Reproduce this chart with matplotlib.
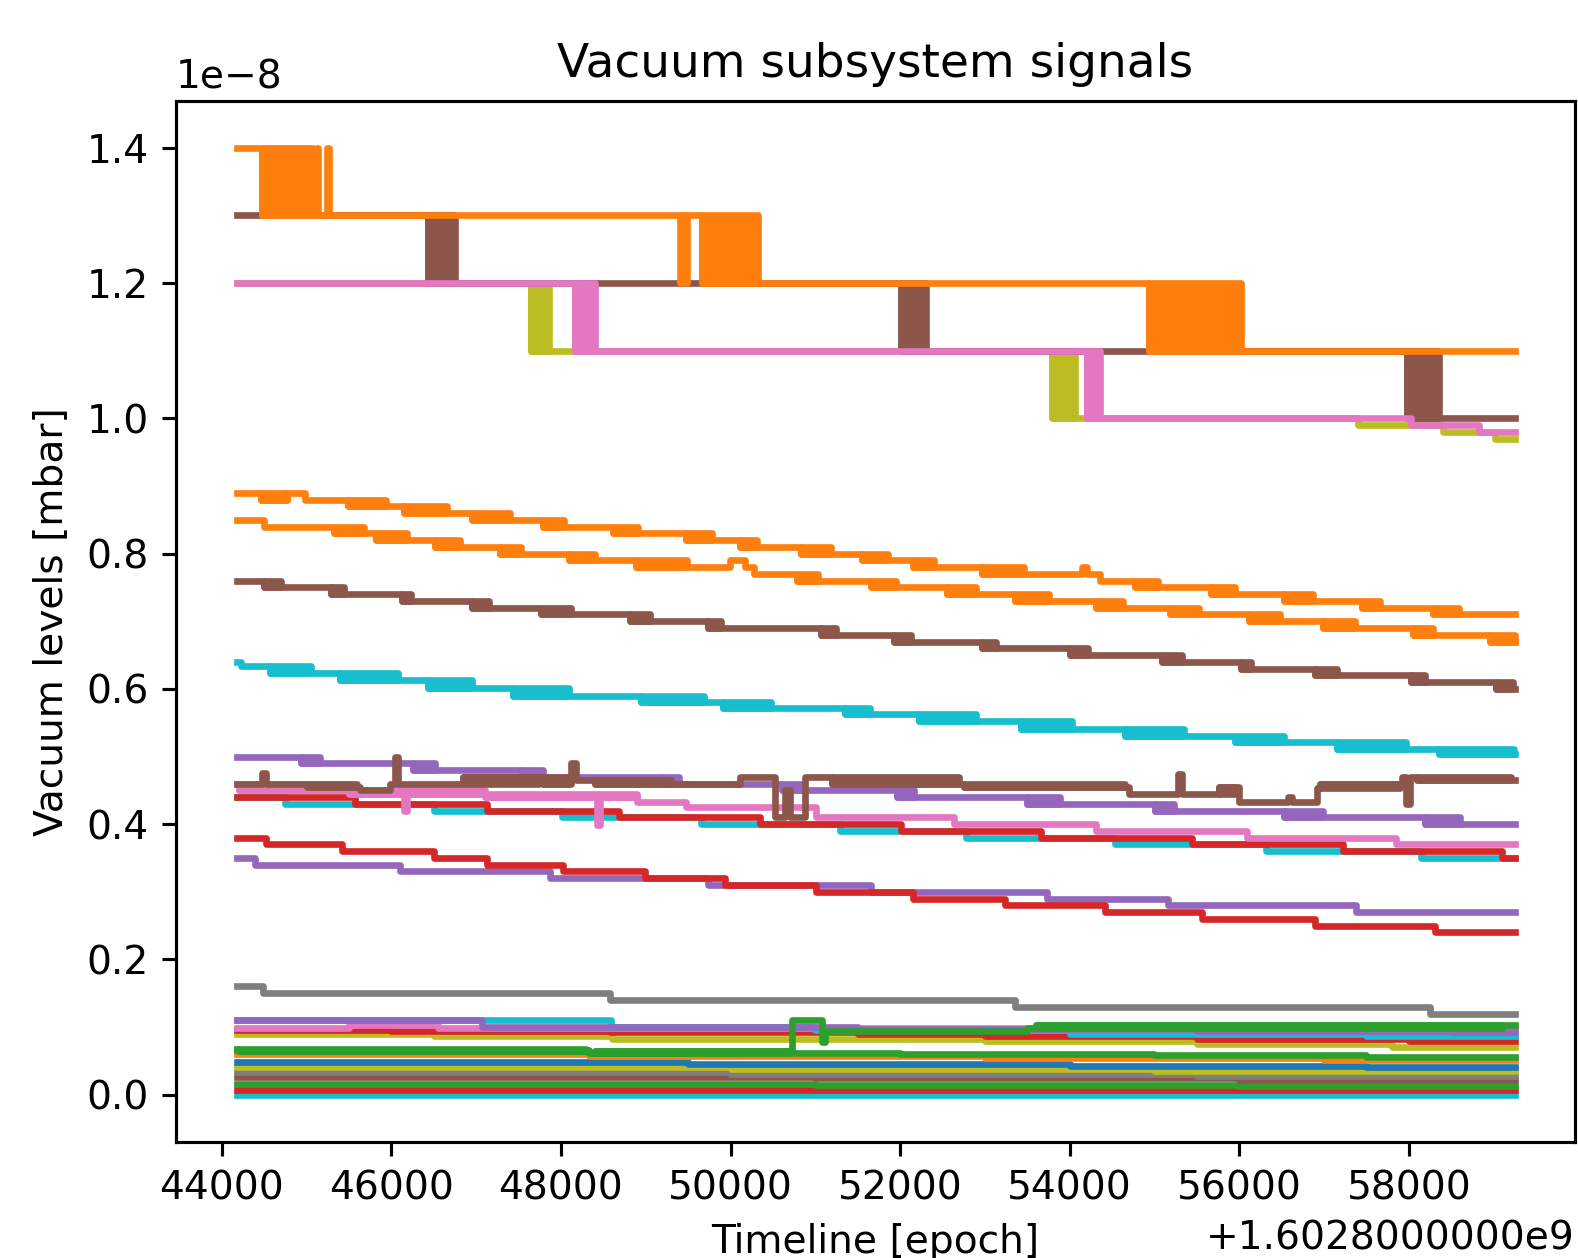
import matplotlib
matplotlib.use('Agg')
import matplotlib.pyplot as plt
import numpy as np
from matplotlib.ticker import ScalarFormatter

# time axis: epoch seconds = T0 + offset
T0 = 1602800000
T_END = 59247
SCALE = 1e-8  # values below are in 1e-8 mbar

# each entry: (time offset [s], new level, length of toggling between old and new level [s])

# --- top gauges (1.0 .. 1.4)
orange_top = [(44178, 1.40, 0), (44475, 1.30, 605), (45120, 1.40, 0), (45135, 1.30, 0),
              (45245, 1.40, 0), (45260, 1.30, 0), (49405, 1.20, 0), (49418, 1.30, 0),
              (49475, 1.20, 0), (49488, 1.30, 0), (49659, 1.20, 665), (54936, 1.10, 1080)]
brown_top = [(44178, 1.30, 0), (46432, 1.20, 320), (52008, 1.10, 300), (57976, 1.00, 380)]
pink_top = [(44178, 1.20, 0), (48170, 1.10, 230), (54203, 1.00, 155), (58020, 0.99, 0),
            (58832, 0.98, 0)]
olive_top = [(44178, 1.20, 0), (47643, 1.10, 213), (53788, 1.00, 273), (57397, 0.99, 0),
             (58400, 0.98, 0), (59022, 0.97, 0)]

# --- middle gauges
orange_b = [(44178, 0.89, 0), (44467, 0.88, 300), (44773, 0.89, 0), (44986, 0.88, 0),
            (45492, 0.87, 450), (46153, 0.86, 500), (46948, 0.85, 450), (47791, 0.84, 250),
            (48611, 0.83, 300), (49477, 0.82, 300), (50114, 0.81, 200), (50833, 0.80, 350),
            (51552, 0.79, 300), (52149, 0.78, 250), (52967, 0.77, 500), (54146, 0.78, 0),
            (54200, 0.77, 0), (54363, 0.76, 0), (54771, 0.75, 265), (55662, 0.74, 290),
            (56527, 0.73, 340), (57442, 0.72, 220), (58284, 0.71, 310)]
orange_c = [(44178, 0.85, 0), (44495, 0.84, 0), (45323, 0.83, 350), (45824, 0.82, 360),
            (46515, 0.81, 300), (47281, 0.80, 250), (48098, 0.79, 300), (48891, 0.78, 590),
            (49990, 0.79, 0), (50169, 0.78, 0), (50272, 0.77, 0), (50782, 0.76, 250),
            (51652, 0.75, 300), (52558, 0.74, 337), (53352, 0.73, 410), (54314, 0.72, 310),
            (55181, 0.71, 340), (56119, 0.70, 360), (56986, 0.69, 385), (58044, 0.68, 240),
            (58958, 0.67, 289)]
brown_mid = [(44178, 0.76, 0), (44495, 0.75, 200), (45287, 0.74, 150), (46129, 0.73, 100),
             (46948, 0.72, 200), (47768, 0.71, 350), (48815, 0.70, 230), (49735, 0.69, 150),
             (51064, 0.68, 180), (51933, 0.67, 190), (52967, 0.66, 170), (54002, 0.65, 215),
             (55084, 0.64, 240), (56022, 0.63, 120), (56889, 0.62, 265), (58020, 0.61, 170),
             (59030, 0.60, 200)]
cyan_mid = [(44178, 0.64, 0), (44230, 0.634, 0), (44572, 0.623, 485), (45390, 0.613, 690),
            (46438, 0.602, 510), (47434, 0.59, 665), (48942, 0.58, 740), (49913, 0.572, 560),
            (51350, 0.563, 300), (52222, 0.552, 675), (53424, 0.541, 600), (54651, 0.531, 700),
            (55950, 0.522, 580), (57152, 0.511, 820), (58355, 0.503, 890)]
purple_a = [(44178, 0.50, 0), (44929, 0.49, 230), (46259, 0.48, 255), (47537, 0.47, 255),
            (49198, 0.46, 200), (50604, 0.45, 230), (51959, 0.44, 200), (53497, 0.43, 385),
            (55012, 0.42, 215), (56527, 0.41, 455), (58190, 0.40, 410)]
brown_noisy = [(44178, 0.46, 0), (44480, 0.475, 0), (44520, 0.46, 0), (45000, 0.455, 600),
               (45625, 0.45, 0), (45980, 0.46, 0), (46040, 0.50, 0), (46080, 0.46, 0),
               (46846, 0.47, 900), (47791, 0.46, 300), (48120, 0.49, 0), (48180, 0.465, 0),
               (48400, 0.46, 900), (50114, 0.47, 0), (50528, 0.41, 0), (50640, 0.45, 0),
               (50700, 0.41, 0), (50882, 0.47, 0), (51200, 0.46, 1500), (52750, 0.455, 1900),
               (54700, 0.445, 0), (55277, 0.474, 0), (55320, 0.445, 0), (55758, 0.455, 190),
               (55997, 0.432, 0), (56574, 0.44, 0), (56620, 0.432, 0), (56913, 0.454, 0),
               (56950, 0.46, 950), (57923, 0.47, 0), (57970, 0.43, 0), (58010, 0.47, 0),
               (58100, 0.465, 1100)]
pink_noisy = [(44178, 0.46, 0), (44200, 0.45, 1300), (45500, 0.445, 1600), (46153, 0.42, 0),
              (46190, 0.445, 0), (47100, 0.44, 1800), (48426, 0.398, 0), (48460, 0.44, 0),
              (48900, 0.432, 0), (49477, 0.425, 0), (51010, 0.41, 0), (52631, 0.40, 0),
              (54311, 0.39, 0), (56091, 0.38, 0), (57848, 0.37, 0)]
red_a = [(44178, 0.44, 0), (45568, 0.43, 0), (47127, 0.42, 0), (48687, 0.41, 0),
         (50349, 0.40, 0), (52005, 0.39, 0), (53662, 0.38, 0), (55443, 0.37, 0),
         (57222, 0.36, 0), (59101, 0.35, 0)]
cyan_b = [(44178, 0.44, 0), (44748, 0.43, 0), (46503, 0.42, 0), (48018, 0.41, 0),
          (49654, 0.40, 0), (51290, 0.39, 0), (52775, 0.38, 0), (54531, 0.37, 0),
          (56311, 0.36, 0), (58140, 0.35, 0)]
red_b = [(44178, 0.38, 0), (44520, 0.37, 0), (45415, 0.36, 0), (46503, 0.35, 0),
         (47127, 0.34, 0), (48022, 0.33, 0), (48994, 0.32, 0), (49940, 0.31, 0),
         (51013, 0.30, 0), (52150, 0.29, 0), (53232, 0.28, 0), (54411, 0.27, 0),
         (55565, 0.26, 0), (56889, 0.25, 0), (58307, 0.24, 0)]
purple_b = [(44178, 0.35, 0), (44393, 0.34, 0), (46106, 0.33, 0), (47869, 0.32, 0),
            (49735, 0.31, 0), (51652, 0.30, 0), (53735, 0.29, 0), (55158, 0.28, 0),
            (57372, 0.27, 0)]
gray_a = [(44178, 0.16, 0), (44490, 0.15, 0), (48580, 0.14, 0), (53355, 0.13, 0),
          (58248, 0.12, 0)]

# --- low gauges (0 .. 0.11)
purple_low = [(44178, 0.11, 0), (47072, 0.10, 0), (51500, 0.097, 0), (55500, 0.094, 0),
              (58500, 0.092, 0)]
cyan_low = [(44178, 0.11, 0), (48585, 0.10, 0), (51000, 0.095, 0), (54000, 0.09, 0),
            (57500, 0.086, 0)]
pink_low = [(44178, 0.099, 0), (45500, 0.103, 0), (46550, 0.099, 0)]
red_low = [(44178, 0.096, 0), (46000, 0.094, 0), (48580, 0.092, 0), (51500, 0.089, 0),
           (53000, 0.086, 0), (55500, 0.083, 0), (58000, 0.079, 0)]
olive_low = [(44178, 0.089, 0), (46500, 0.086, 0), (48600, 0.083, 0), (53000, 0.079, 0),
             (55500, 0.075, 0), (57800, 0.07, 0)]
green_jump = [(44178, 0.068, 0), (44200, 0.064, 4100), (48330, 0.061, 0), (48400, 0.064, 2300),
              (50723, 0.11, 0), (51077, 0.078, 0), (51110, 0.094, 0), (53500, 0.099, 0),
              (53600, 0.103, 5500)]
green_low = [(44178, 0.066, 0), (48330, 0.061, 0), (52000, 0.06, 0), (55000, 0.058, 0),
             (57500, 0.056, 0)]
orange_low = [(44178, 0.06, 0), (48330, 0.057, 0), (53000, 0.054, 0), (57000, 0.051, 0)]
blue_low = [(44178, 0.048, 0), (49500, 0.045, 0), (54000, 0.043, 0), (57500, 0.041, 0)]
olive_low2 = [(44178, 0.041, 0), (50000, 0.038, 0), (55000, 0.035, 0)]
gray_low = [(44178, 0.034, 0), (50000, 0.031, 0), (55500, 0.028, 0)]
brown_low = [(44178, 0.026, 0), (51000, 0.024, 0), (56000, 0.022, 0)]
green_low2 = [(44178, 0.016, 0), (51000, 0.014, 0), (56000, 0.013, 0)]
red_low2 = [(44178, 0.0065, 0)]
cyan_low2 = [(44178, 0.0, 0)]

series = [
    (cyan_low2, 'C9'), (red_low2, 'C3'), (green_low2, 'C2'), (brown_low, 'C5'),
    (gray_low, 'C7'), (olive_low2, 'C8'), (blue_low, 'C0'), (orange_low, 'C1'),
    (green_low, 'C2'), (olive_low, 'C8'), (red_low, 'C3'), (pink_low, 'C6'),
    (cyan_low, 'C9'), (purple_low, 'C4'), (green_jump, 'C2'),
    (gray_a, 'C7'), (purple_b, 'C4'), (red_b, 'C3'), (cyan_b, 'C9'), (red_a, 'C3'),
    (pink_noisy, 'C6'), (purple_a, 'C4'), (brown_noisy, 'C5'),
    (cyan_mid, 'C9'), (brown_mid, 'C5'), (orange_c, 'C1'), (orange_b, 'C1'),
    (olive_top, 'C8'), (brown_top, 'C5'), (pink_top, 'C6'), (orange_top, 'C1'),
]


class LongOffsetFormatter(ScalarFormatter):
    # offset written out with ten decimals, e.g. +1.6028000000e9
    def format_data(self, value):
        e = int(np.floor(np.log10(abs(value))))
        return '%1.10fe%d' % (value / 10 ** e, e)


def draw(ax, steps, color, z):
    ts = [T0 + s[0] for s in steps] + [T0 + T_END]
    vs = [s[1] * SCALE for s in steps] + [steps[-1][1] * SCALE]
    ax.plot(ts, vs, drawstyle='steps-post', color=color, lw=1.7, zorder=z)
    prev = steps[0][1]
    for t, v, w in steps:
        if w > 0:
            # fast toggling between two levels shows as a solid block
            ax.fill_between([T0 + t, T0 + t + w], min(prev, v) * SCALE, max(prev, v) * SCALE,
                            color=color, lw=1.7, zorder=z)
        prev = v


fig = plt.figure(figsize=(1578 / 282, 1258 / 282), dpi=282)
ax = fig.add_axes([176 / 1578, 116 / 1258, 1399 / 1578, 1041.5 / 1258])

for i, (steps, color) in enumerate(series):
    draw(ax, steps, color, 2 + i * 0.01)

ax.set_xlim(T0 + 43460, T0 + 59960)
ax.xaxis.set_major_formatter(LongOffsetFormatter())

ax.set_title('Vacuum subsystem signals')
ax.set_xlabel('Timeline [epoch]')
ax.set_ylabel('Vacuum levels [mbar]')

fig.savefig('out.png', dpi=282)
